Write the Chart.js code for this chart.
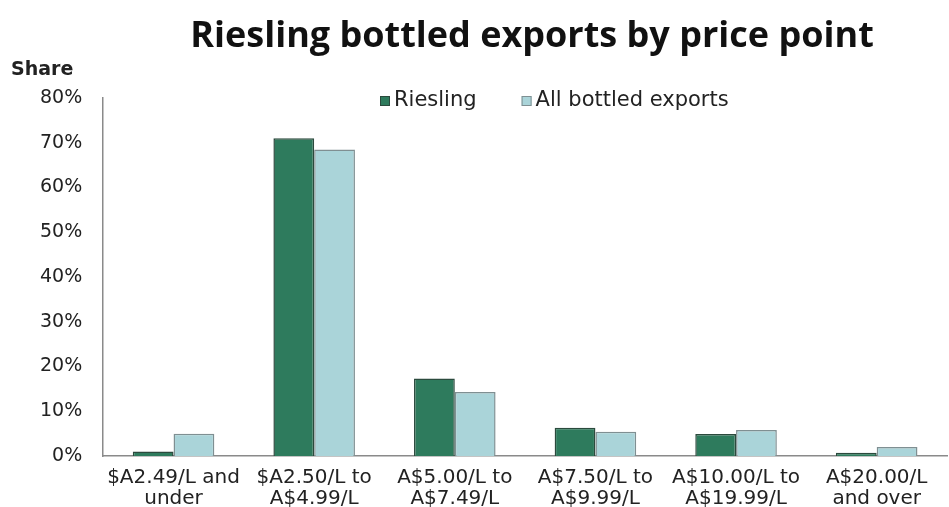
<!DOCTYPE html>
<html>
<head>
<meta charset="utf-8">
<script src="https://cdn.jsdelivr.net/npm/chart.js@4/dist/chart.umd.min.js"></script>
<style>
    html, body { margin: 0; padding: 0; background: #ffffff; }
    #wrap { width: 949px; height: 507px; }
</style>
</head>
<body>
<div id="wrap"><canvas id="rieslingChart" width="949" height="507"></canvas></div>
<script>
// Kategoriyalar va qiymatlar
const priceBands = [
    ['$A2.49/L and', 'under'],
    ['$A2.50/L to', 'A$4.99/L'],
    ['A$5.00/L to', 'A$7.49/L'],
    ['A$7.50/L to', 'A$9.99/L'],
    ['A$10.00/L to', 'A$19.99/L'],
    ['A$20.00/L', 'and over']
];
const rieslingShare = [1.0, 71.0, 17.3, 6.3, 4.9, 0.7];
const allBottledShare = [5.0, 68.5, 14.3, 5.4, 5.8, 2.0];
const yTicks = [0, 10, 20, 30, 40, 50, 60, 70, 80];

const chartTitle = 'Riesling bottled exports by price point';

// Sarlavha, "Share" yozuvi va legend
const annotations = {
    id: 'annotations',
    afterDraw(chart) {
        const ctx = chart.ctx;
        ctx.save();
        ctx.fillStyle = '#111111';
        ctx.textBaseline = 'alphabetic';
        ctx.textAlign = 'center';
        ctx.font = "bold 36px 'Open Sans', sans-serif";
        ctx.fillText(chartTitle, 532, 47);

        ctx.textAlign = 'left';
        ctx.fillStyle = '#222222';
        ctx.font = "bold 19px 'DejaVu Sans', sans-serif";
        ctx.fillText('Share', 11, 75);

        // Legend
        ctx.font = "21px 'DejaVu Sans', sans-serif";
        ctx.textBaseline = 'middle';
        let x = 380;
        const y = 101;
        chart.data.datasets.forEach(ds => {
            ctx.fillStyle = ds.backgroundColor;
            ctx.strokeStyle = ds.borderColor;
            ctx.lineWidth = 1;
            ctx.fillRect(x, y - 5, 10, 10);
            ctx.strokeRect(x + 0.5, y - 4.5, 9, 9);
            ctx.fillStyle = '#222222';
            ctx.fillText(ds.label, x + 14, y);
            x += 14 + ctx.measureText(ds.label).width + 45;
        });
        ctx.restore();
    }
};

new Chart(document.getElementById('rieslingChart'), {
    type: 'bar',
    data: {
        labels: priceBands,
        datasets: [{
            label: 'Riesling',
            data: rieslingShare,
            backgroundColor: '#2e7b5d',
            borderColor: '#2b4a3d',
            borderWidth: 1.5
        }, {
            label: 'All bottled exports',
            data: allBottledShare,
            backgroundColor: '#aad4d9',
            borderColor: '#7f8f92',
            borderWidth: 1.5
        }]
    },
    options: {
        responsive: false,
        animation: false,
        layout: {
            padding: { top: 98, left: 19, right: 2, bottom: -13 }
        },
        datasets: {
            bar: { categoryPercentage: 0.58, barPercentage: 1.0 }
        },
        plugins: {
            title: { display: false },
            legend: { display: false },
            tooltip: { enabled: false }
        },
        scales: {
            x: {
                grid: { display: false, drawTicks: false },
                border: { color: '#8a8a8a', width: 1.5 },
                ticks: {
                    color: '#222222',
                    font: { family: "'DejaVu Sans', sans-serif", size: 20, lineHeight: 1.05 },
                    maxRotation: 0,
                    autoSkip: false,
                    padding: 11
                }
            },
            y: {
                min: 0,
                max: 80,
                afterBuildTicks: axis => {
                    axis.ticks = yTicks.map(v => ({ value: v }));
                },
                grid: { display: false, drawTicks: false },
                border: { color: '#8a8a8a', width: 1.5 },
                ticks: {
                    color: '#222222',
                    font: { family: "'DejaVu Sans', sans-serif", size: 19 },
                    padding: 21,
                    callback: v => v + '%'
                }
            }
        }
    },
    plugins: [annotations]
});
</script>
</body>
</html>
